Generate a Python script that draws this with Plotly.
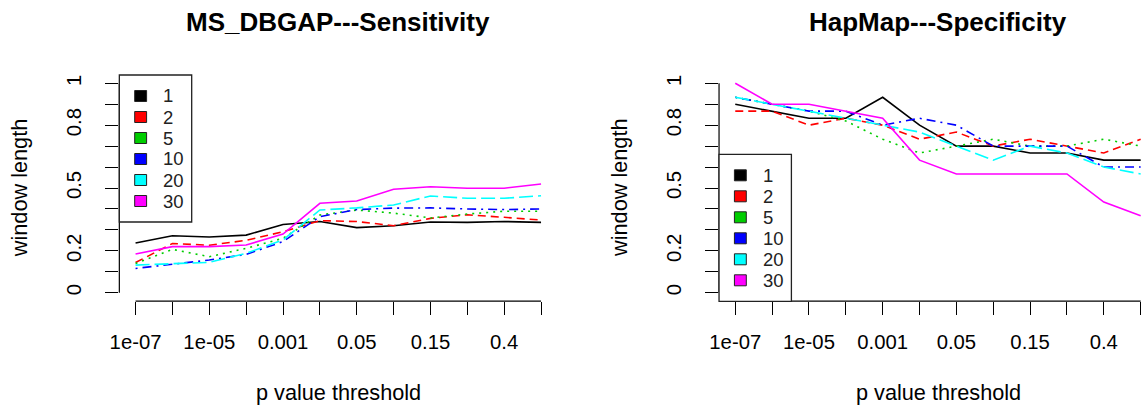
import plotly.graph_objects as go

# ---- data -------------------------------------------------------------
p_thresholds = ["1e-07", "1e-06", "1e-05", "1e-04", "0.001", "0.01",
                "0.05", "0.1", "0.15", "0.2", "0.4", "0.5"]
shown_x_labels = ["1e-07", "", "1e-05", "", "0.001", "",
                  "0.05", "", "0.15", "", "0.4", ""]
window_lengths = ["1", "2", "5", "10", "20", "30"]

y_tick_values = [0.0, 0.1, 0.2, 0.3, 0.4, 0.5, 0.6, 0.7, 0.8, 0.9, 1.0]
y_tick_labels = ["0", "", "0.2", "", "", "0.5", "", "", "0.8", "", "1"]

# MS_DBGAP sensitivity, one list per window length
sens_1 = [0.237, 0.272, 0.266, 0.275, 0.326, 0.340, 0.311, 0.320, 0.338, 0.336, 0.340, 0.336]
sens_2 = [0.144, 0.235, 0.227, 0.250, 0.291, 0.344, 0.340, 0.320, 0.355, 0.372, 0.360, 0.347]
sens_5 = [0.140, 0.207, 0.172, 0.212, 0.260, 0.371, 0.395, 0.380, 0.357, 0.376, 0.389, 0.389]
sens_10 = [0.116, 0.137, 0.156, 0.183, 0.244, 0.363, 0.397, 0.404, 0.405, 0.400, 0.397, 0.400]
sens_20 = [0.132, 0.139, 0.145, 0.188, 0.252, 0.395, 0.405, 0.419, 0.462, 0.451, 0.451, 0.463]
sens_30 = [0.185, 0.220, 0.220, 0.228, 0.280, 0.427, 0.438, 0.494, 0.506, 0.499, 0.499, 0.519]

# HapMap specificity, one list per window length
spec_1 = [0.900, 0.867, 0.833, 0.833, 0.933, 0.800, 0.700, 0.700, 0.667, 0.667, 0.633, 0.633]
spec_2 = [0.867, 0.867, 0.800, 0.833, 0.800, 0.733, 0.767, 0.700, 0.733, 0.700, 0.667, 0.733]
spec_5 = [0.933, 0.900, 0.867, 0.820, 0.733, 0.667, 0.700, 0.733, 0.700, 0.700, 0.733, 0.700]
spec_10 = [0.933, 0.900, 0.867, 0.867, 0.800, 0.833, 0.800, 0.700, 0.700, 0.700, 0.600, 0.600]
spec_20 = [0.933, 0.900, 0.867, 0.833, 0.800, 0.767, 0.700, 0.633, 0.700, 0.667, 0.600, 0.567]
spec_30 = [1.000, 0.900, 0.900, 0.867, 0.833, 0.633, 0.567, 0.567, 0.567, 0.567, 0.433, 0.367]

sensitivity = [sens_1, sens_2, sens_5, sens_10, sens_20, sens_30]
specificity = [spec_1, spec_2, spec_5, spec_10, spec_20, spec_30]

# ---- styling (classic R palette and line types) -----------------------
colors = ["#000000", "#FF0000", "#00CD00", "#0000FF", "#00FFFF", "#FF00FF"]
dashes = ["solid", "8px,5px", "2px,5px", "2px,5px,9px,5px", "14px,5px", "solid"]

W, H = 1143, 409
FONT = "Liberation Sans, Arial, Helvetica, sans-serif"


def px_x(px):
    return px / W


def px_y(py):
    return 1 - py / H


# plot regions in pixels
panels = [
    dict(left=110.3, right=552.1, xmax=12.44, title="MS_DBGAP---Sensitivity",
         data=sensitivity, legend_top=75.0),
    dict(left=715.3, right=1143.0, xmax=0.56 + (1143.0 - 715.3) / 37.18,
         title="HapMap---Specificity", data=specificity, legend_top=154.3),
]
TOP, BOTTOM = 74.9, 301.1

x_idx = list(range(1, len(p_thresholds) + 1))

fig = go.Figure()
shapes, annotations = [], []

for k, pan in enumerate(panels):
    n = "" if k == 0 else str(k + 1)
    xa, ya = "x" + n, "y" + n
    for series, name, c, d in zip(pan["data"], window_lengths, colors, dashes):
        fig.add_trace(go.Scatter(
            x=x_idx, y=series, mode="lines", name=name,
            line=dict(color=c, width=1.6, dash=d),
            xaxis=xa, yaxis=ya, showlegend=False, hoverinfo="skip"))

    axis_common = dict(showgrid=False, zeroline=False, showline=False,
                       ticks="outside", ticklen=13, tickwidth=1.2,
                       tickcolor="#000000",
                       tickfont=dict(family=FONT, size=20.3, color="#000000"))
    fig.update_layout(**{
        "xaxis" + n: dict(domain=[px_x(pan["left"]), px_x(pan["right"])],
                          range=[0.56, pan["xmax"]], anchor=ya,
                          tickmode="array", tickvals=x_idx,
                          ticktext=shown_x_labels, ticklabelstandoff=10,
                          **axis_common),
        "yaxis" + n: dict(domain=[px_y(BOTTOM), px_y(TOP)],
                          range=[-0.04, 1.04], anchor=xa,
                          tickmode="array", tickvals=y_tick_values,
                          ticktext=y_tick_labels, tickangle=-90,
                          ticklabelstandoff=16, **axis_common),
    })

    # R-style axis lines spanning only first to last tick
    shapes.append(dict(type="line", xref="paper", yref=ya,
                       x0=px_x(pan["left"]), x1=px_x(pan["left"]), y0=0, y1=1,
                       line=dict(color="#000000", width=1.2)))
    shapes.append(dict(type="line", xref=xa, yref="paper",
                       x0=1, x1=12, y0=px_y(BOTTOM), y1=px_y(BOTTOM),
                       line=dict(color="#000000", width=1.2)))

    cx = (pan["left"] + (pan["left"] + 441.8)) / 2
    annotations.append(dict(text="<b>%s</b>" % pan["title"], x=px_x(cx), y=px_y(21.7),
                            xref="paper", yref="paper", showarrow=False,
                            xanchor="center", yanchor="middle",
                            font=dict(family=FONT, size=26, color="#000000")))
    annotations.append(dict(text="p value threshold", x=px_x(cx), y=px_y(392),
                            xref="paper", yref="paper", showarrow=False,
                            xanchor="center", yanchor="middle",
                            font=dict(family=FONT, size=21.7, color="#000000")))
    annotations.append(dict(text="window length", x=px_x(pan["left"] - 101), y=px_y(188),
                            xref="paper", yref="paper", showarrow=False,
                            textangle=-90, xanchor="center", yanchor="middle",
                            font=dict(family=FONT, size=21.7, color="#000000")))

    # legend box with filled keys
    lx, ly = pan["left"], pan["legend_top"]
    shapes.append(dict(type="rect", xref="paper", yref="paper",
                       x0=px_x(lx), x1=px_x(lx + 73), y0=px_y(ly), y1=px_y(ly + 147),
                       line=dict(color="#222222", width=1.3), fillcolor="#FFFFFF",
                       layer="above"))
    for i, (name, c) in enumerate(zip(window_lengths, colors)):
        ry = ly + 21 + i * 21
        shapes.append(dict(type="rect", xref="paper", yref="paper",
                           x0=px_x(lx + 15.5), x1=px_x(lx + 27.5),
                           y0=px_y(ry - 5.5), y1=px_y(ry + 5.5),
                           line=dict(color="#222222", width=1), fillcolor=c,
                           layer="above"))
        annotations.append(dict(text=name, x=px_x(lx + 42.5), y=px_y(ry),
                                xref="paper", yref="paper", showarrow=False,
                                xanchor="left", yanchor="middle",
                                font=dict(family=FONT, size=18.5, color="#222222")))

fig.update_layout(width=W, height=H, autosize=False,
                  margin=dict(l=0, r=0, t=0, b=0, pad=0),
                  paper_bgcolor="#FFFFFF", plot_bgcolor="#FFFFFF",
                  showlegend=False, shapes=shapes, annotations=annotations)

fig.write_html("out.html")
